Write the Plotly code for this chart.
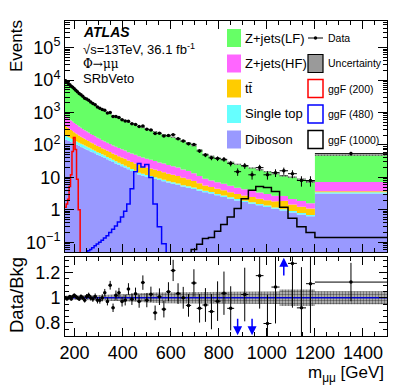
import numpy as np
import plotly.graph_objects as go

# ---------------- data ----------------
edges = [160,165,171,177,183,189,195,202,208,215,223,230,238,246,254,263,271,281,290,300,
         310,320,331,342,354,366,378,391,404,417,431,446,461,476,492,509,526,544,562,581,
         600,620,641,663,685,708,732,757,782,808,835,864,893,923,954,986,1019,1053,1088,1125,
         1163,1200,1500]

diboson = [148,141,135,129,123,117,110,105,100,93, 87,83,78,72,68,63,59,55,50,47,
           43,40,36,33,30,27,24.5,22,20,17.8, 15.8,14.1,12.3,11.5,10.5,9.8,9.1,8.3,7.6,6.9,
           6.4,5.9,5.2,4.8,4.4,3.9,3.5,3.2,2.8,2.5, 2.2,1.95,1.74,1.55,1.38,1.23,1.07,0.95,0.83,0.72,
           0.63,3.2]
single_top = [44,42,40,38,35,33,30,28,26,24, 22,20,18.5,17,15.5,14,12.5,11.5,10,9.2,
              8.2,7.4,6.5,5.8,5.1,4.5,3.9,3.4,3.0,2.6, 2.2,1.9,1.6,1.45,1.3,1.15,1.05,0.95,0.85,0.75,
              0.68,0.62,0.54,0.49,0.45,0.40,0.35,0.32,0.28,0.25, 0.22,0.2,0.17,0.155,0.14,0.12,0.11,0.095,0.083,0.072,
              0.063,0.3]
ttbar = [191,174,155,142,129,118,105,96,88,79, 71,65,58,54,49,44,41,37,33,31,
         28,26,23.5,21.7,19.6,18.1,16.7,15.4,14.2,12.8, 11.8,10.9,10.1,9.1,8.4,7.8,7.2,6.5,6.0,5.4,
         5.0,4.5,4.0,3.5,2.9,2.3,1.75,1.55,1.37,1.24, 1.07,0.93,0.85,0.76,0.69,0.64,0.62,0.85,0.55,0.46,
         0.40,0.25]
zjets_hf = [401,368,330,303,279,256,230,212,195,175, 157,144,130,119,109,98,90,81,73,67,
            60,55,50,46,41.5,38,35,32.5,29.8,26.8, 24.7,22.7,20.9,18.8,17.2,15.9,14.6,13.1,12.1,10.9,
            10.0,9.0,7.9,6.9,5.6,4.4,3.4,3.0,2.6,2.35, 2.0,1.74,1.56,1.36,1.19,1.06,0.9,0.78,0.69,0.61,
            0.5,3.5]
zjets_lf = [8766,7975,7100,6468,5894,5366,4775,4349,3961,3519, 3133,2848,2536,2308,2099,1871,1703,1516,1344,1226,
            1091,992,884,805.5,716.8,653.4,595.9,543.7,495,441, 402.5,367.4,335.1,298.2,271.6,247.4,225,200.2,182.5,162,
            147.9,131,114.4,99.3,79.7,60,43,36.9,32,28.4, 24,20.3,18.1,15.7,13.6,12.05,10.2,8.5,8.05,6.84,
            5.6,40.75]
data = [9550,8613,7760,7151,6395,5949,5355,4838,4370,3851, 3505,3160,2764,2596,2387,2090,1886,1717,1480,1352,
        1230,1165,970,1003,748,756,703,598,551,536, 452,430,369,380,303,290,226,231,190,195,
        207,156,132,108,104,65,49,40,38,36, 27,15,23,12,20,12,14,16,13,8,
        8,54]
bkg_rel_unc = [0.015,0.015,0.015,0.015,0.015,0.016,0.016,0.016,0.017,0.017,
               0.017,0.018,0.018,0.018,0.019,0.019,0.02,0.02,0.02,
               0.021,0.022,0.022,0.023,0.024,0.025,0.025,0.026,0.027,0.028,0.03,0.031,0.033,0.035,0.036,0.038,
               0.04,0.041,0.042,0.043,0.044,0.045,0.045,0.045,0.046,0.046,
               0.046,0.046,0.047,0.047,0.047,0.047,0.048,0.048,0.048,0.048,0.05,
               0.05,0.065,0.065,0.066,0.066,
               0.052]
sig_200 = [1.2,1.5,2.1,5.2,12,63,170,72,8.7,1.0] + [0]*52
sig_480 = [0]*14 + [0.055,0.06,0.068,0.078,0.088,0.1,0.115,0.135,0.16,0.2,0.25,0.32,0.42,0.6,0.9,
                    1.5,4.5,15,27,21,25,10,1.5,0.3,0.09] + [0]*23
sig_1000 = [0]*44 + [0.06,0.087,0.13,0.14,0.22,0.35,0.6,1.1,2.2,4.0,5.2,4.9,3.7,1.2,0.55,0.3,0.2,0.14]

# ---------------- helpers ----------------
e = np.array(edges, float)
centers = 0.5 * (e[:-1] + e[1:])
halfw = 0.5 * np.diff(e)

def step_xy(vals):
    v = np.asarray(vals, float)
    xs = np.repeat(e, 2)[1:-1]
    ys = np.repeat(v, 2)
    return xs, ys

FLOOR = 1e-4
FONT = "Liberation Sans, Arial, Helvetica, sans-serif"

XR = [160, 1500]
YR = [-1.3, 5.82]
RR = [0.695, 1.325]

fig = go.Figure()

comps = [("Diboson", diboson, "#9999ff"),
         ("Single top", single_top, "#66ffff"),
         ("ttbar", ttbar, "#ffcc00"),
         ("Z+jets(HF)", zjets_hf, "#ff66ff"),
         ("Z+jets(LF)", zjets_lf, "#66ff66")]
lower = np.full(len(centers), FLOOR)
cum = np.zeros(len(centers))
for name, vals, col in comps:
    cum = cum + np.asarray(vals, float)
    xu, yu = step_xy(cum)
    xl, yl = step_xy(lower)
    fig.add_trace(go.Scatter(x=np.concatenate([xu, xl[::-1]]), y=np.concatenate([yu, yl[::-1]]),
                             fill="toself", fillcolor=col, mode="lines", line=dict(width=0),
                             hoverinfo="skip", showlegend=False, xaxis="x", yaxis="y"))
    lower = cum.copy()
total = cum

unc = np.asarray(bkg_rel_unc)
xu, yu = step_xy(total * (1 + unc))
xl, yl = step_xy(total * (1 - unc))
fig.add_trace(go.Scatter(x=np.concatenate([xu, xl[::-1]]), y=np.concatenate([yu, yl[::-1]]),
                         fill="toself", mode="lines", line=dict(width=0),
                         fillpattern=dict(shape=".", fgcolor="#444444", bgcolor="rgba(170,170,170,0.6)",
                                          size=3, solidity=0.5),
                         hoverinfo="skip", showlegend=False, xaxis="x", yaxis="y"))

for vals, col in [(sig_200, "#ff0000"), (sig_480, "#0000ff"), (sig_1000, "#000000")]:
    v = np.where(np.asarray(vals, float) > 0, vals, FLOOR)
    xs, ys = step_xy(v)
    fig.add_trace(go.Scatter(x=xs, y=ys, mode="lines", line=dict(color=col, width=1.5),
                             hoverinfo="skip", showlegend=False, xaxis="x", yaxis="y"))

d = np.asarray(data, float)
fig.add_trace(go.Scatter(x=centers, y=d, mode="markers",
                         marker=dict(color="black", size=3.5),
                         error_y=dict(type="data", array=np.sqrt(d), color="black", thickness=1, width=0),
                         error_x=dict(type="data", array=halfw, color="black", thickness=1, width=0),
                         showlegend=False, xaxis="x", yaxis="y"))

xu, yu = step_xy(1 + unc)
xl, yl = step_xy(1 - unc)
fig.add_trace(go.Scatter(x=np.concatenate([xu, xl[::-1]]), y=np.concatenate([yu, yl[::-1]]),
                         fill="toself", mode="lines", line=dict(width=0),
                         fillpattern=dict(shape=".", fgcolor="#555555", bgcolor="#c8c8c8",
                                          size=3, solidity=0.5),
                         hoverinfo="skip", showlegend=False, xaxis="x2", yaxis="y2"))
fig.add_trace(go.Scatter(x=XR, y=[1, 1], mode="lines", line=dict(color="#0000cc", width=1.5),
                         hoverinfo="skip", showlegend=False, xaxis="x2", yaxis="y2"))

ratio = d / total
rerr = np.sqrt(d) / total
inside = (ratio > RR[0]) & (ratio < RR[1])
fig.add_trace(go.Scatter(x=centers[inside], y=ratio[inside], mode="markers",
                         marker=dict(color="black", size=3.5),
                         error_y=dict(type="data", array=rerr[inside], color="black", thickness=1, width=0),
                         error_x=dict(type="data", array=halfw[inside], color="black", thickness=1, width=0),
                         showlegend=False, xaxis="x2", yaxis="y2"))

annotations = []
for xc, r in zip(centers[~inside], ratio[~inside]):
    if r < RR[0]:
        tip, tail = RR[0] + 0.005, RR[0] + 0.15
    else:
        tip, tail = RR[1] - 0.005, RR[1] - 0.16
    annotations.append(dict(x=xc, y=tip, ax=xc, ay=tail, xref="x2", yref="y2", axref="x2", ayref="y2",
                            showarrow=True, arrowhead=2, arrowsize=1.2, arrowwidth=1.5,
                            arrowcolor="#0000ff", text="", standoff=0, startstandoff=0))

# ---------------- layout ----------------
L, R, T, B = 65, 20, 21, 55
W, H = 407, 391
PW, PH = W - L - R, H - T - B

def px(x):
    return (x - L) / PW

def py(y):
    return (H - B - y) / PH

main_dom = [py(252), 1.0]
ratio_dom = [0.0, py(257)]

axis_common = dict(showline=True, linecolor="black", linewidth=1, mirror="ticks", ticks="inside",
                   tickcolor="black", showgrid=False, zeroline=False, automargin=False)

decades = [0.1, 1, 10, 100, 1e3, 1e4, 1e5]
dec_txt = ["10<sup>−1</sup>", "1", "10", "10<sup>2</sup>", "10<sup>3</sup>", "10<sup>4</sup>", "10<sup>5</sup>"]
minor_log = [k * 10.0 ** p for p in range(-2, 6) for k in range(2, 10)]
xt = [200, 400, 600, 800, 1000, 1200, 1400]

fig.update_layout(
    template="none",
    width=W, height=H, margin=dict(l=L, r=R, t=T, b=B, pad=0, autoexpand=False),
    paper_bgcolor="white", plot_bgcolor="white",
    font=dict(family=FONT, size=17, color="black"),
    showlegend=False,
    xaxis=dict(anchor="y", domain=[0, 1], range=XR, tickvals=xt, showticklabels=False, ticklen=8,
               minor=dict(dtick=50, tick0=0, ticks="inside", ticklen=4, tickcolor="black"), **axis_common),
    yaxis=dict(domain=main_dom, type="log", range=YR, tickvals=decades, ticktext=dec_txt, ticklen=9,
               tickfont=dict(size=18),
               minor=dict(tickmode="array", tickvals=minor_log, ticks="inside", ticklen=4.5, tickcolor="black"),
               **axis_common),
    xaxis2=dict(anchor="y2", domain=[0, 1], matches="x", range=XR, tickvals=xt, ticklen=8,
                tickfont=dict(size=18),
                minor=dict(dtick=50, tick0=0, ticks="inside", ticklen=4, tickcolor="black"), **axis_common),
    yaxis2=dict(domain=ratio_dom, range=RR, tickvals=[0.8, 1.0, 1.2], ticktext=["0.8", "1", "1.2"],
                ticklen=8, tickfont=dict(size=18),
                minor=dict(dtick=0.05, tick0=0, ticks="inside", ticklen=4, tickcolor="black"), **axis_common),
)

annotations += [
    dict(text="Events", x=px(16), y=py(18), xref="paper", yref="paper", textangle=-90,
         xanchor="center", yanchor="top", showarrow=False, font=dict(size=17)),
    dict(text="Data/Bkg", x=px(16), y=py(295), xref="paper", yref="paper", textangle=-90,
         xanchor="center", yanchor="middle", showarrow=False, font=dict(size=18.5)),
    dict(text="m<sub>μμ</sub> [GeV]", x=px(386), y=py(374), xref="paper", yref="paper",
         xanchor="right", yanchor="middle", showarrow=False, font=dict(size=17)),
]

annotations += [
    dict(text="<b><i>ATLAS</i></b>", x=px(81), y=py(32), xref="paper", yref="paper",
         xanchor="left", yanchor="middle", showarrow=False, font=dict(size=14)),
    dict(text="√s=13TeV, 36.1 fb<sup>-1</sup>", x=px(81), y=py(49), xref="paper", yref="paper",
         xanchor="left", yanchor="middle", showarrow=False, font=dict(size=13)),
    dict(text="Φ→μμ", x=px(81), y=py(64), xref="paper", yref="paper",
         xanchor="left", yanchor="middle", showarrow=False, font=dict(size=12, family="DejaVu Serif, serif")),
    dict(text="SRbVeto", x=px(81), y=py(78), xref="paper", yref="paper",
         xanchor="left", yanchor="middle", showarrow=False, font=dict(size=13)),
]

shapes = []
rows_y = [38, 63.5, 88.5, 114, 139.5]
col1 = [("Z+jets(LF)", "#66ff66"), ("Z+jets(HF)", "#ff66ff"), ("tt\u0304", "#ffcc00"),
        ("Single top", "#66ffff"), ("Diboson", "#9999ff")]
for (lab, col), yc in zip(col1, rows_y):
    shapes.append(dict(type="rect", xref="paper", yref="paper", x0=px(227), x1=px(241),
                       y0=py(yc + 9), y1=py(yc - 9), fillcolor=col, line=dict(width=0)))
    annotations.append(dict(text=lab, x=px(243), y=py(yc), xref="paper", yref="paper",
                            xanchor="left", yanchor="middle", showarrow=False, font=dict(size=13)))

shapes.append(dict(type="line", xref="paper", yref="paper", x0=px(308), x1=px(323),
                   y0=py(38), y1=py(38), line=dict(color="black", width=1)))
shapes.append(dict(type="circle", xref="paper", yref="paper", x0=px(313.8), x1=px(317.2),
                   y0=py(39.7), y1=py(36.3), fillcolor="black", line=dict(width=0)))
annotations.append(dict(text="Data", x=px(326), y=py(38), xref="paper", yref="paper",
                        xanchor="left", yanchor="middle", showarrow=False, font=dict(size=10.5)))
shapes.append(dict(type="rect", xref="paper", yref="paper", x0=px(308), x1=px(323),
                   y0=py(72.5), y1=py(54.5), fillcolor="#9a9a9a", line=dict(color="black", width=1.2)))
annotations.append(dict(text="Uncertainty", x=px(326), y=py(63.5), xref="paper", yref="paper",
                        xanchor="left", yanchor="middle", showarrow=False, font=dict(size=10.5)))
col2 = [("ggF (200)", "#ff0000"), ("ggF (480)", "#0000ff"), ("ggF (1000)", "#000000")]
for (lab, col), yc in zip(col2, rows_y[2:]):
    shapes.append(dict(type="rect", xref="paper", yref="paper", x0=px(308), x1=px(323),
                       y0=py(yc + 9), y1=py(yc - 9), fillcolor="white", line=dict(color=col, width=1.5)))
    annotations.append(dict(text=lab, x=px(326), y=py(yc), xref="paper", yref="paper",
                            xanchor="left", yanchor="middle", showarrow=False, font=dict(size=10.5)))

fig.update_layout(annotations=annotations, shapes=shapes)
fig.write_html("out.html", config={"displayModeBar": False},
               post_script="document.body.style.margin='0px';document.body.style.padding='0px';")
